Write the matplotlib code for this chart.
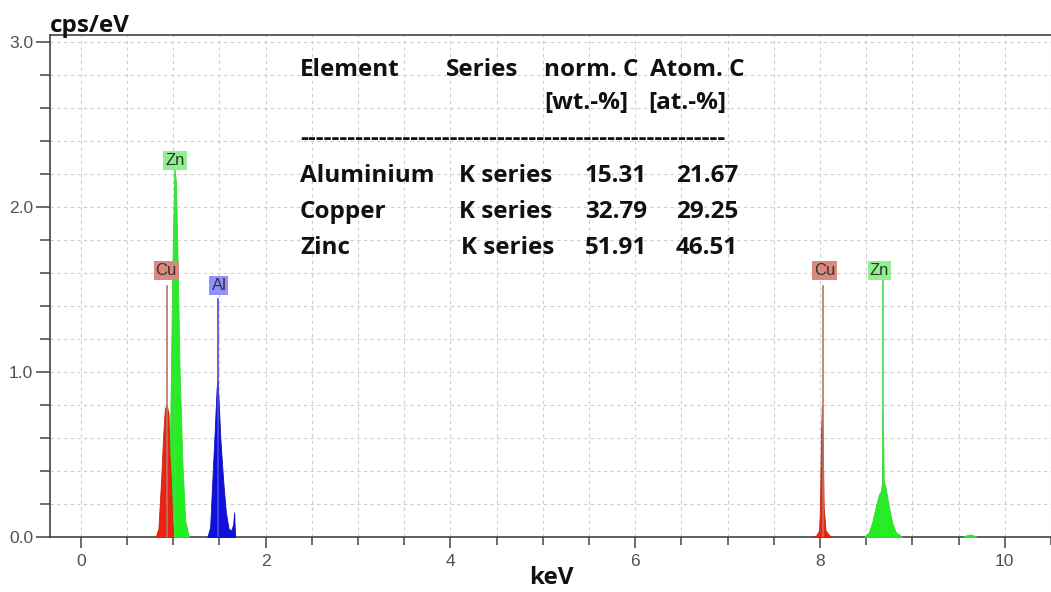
import matplotlib
matplotlib.use("Agg")
import matplotlib.pyplot as plt
from matplotlib import font_manager
import numpy as np

# ---------------- data ----------------
zn_l_e = [0.88, 0.93, 0.96, 0.975, 0.99, 1.01, 1.02, 1.03, 1.05, 1.07, 1.10, 1.13, 1.17]
zn_l_c = [0.0, 0.08, 0.40, 0.95, 1.60, 2.15, 2.21, 2.15, 1.60, 1.00, 0.45, 0.10, 0.0]

cu_l_e = [0.81, 0.84, 0.87, 0.89, 0.91, 0.93, 0.95, 0.96, 0.975, 0.99, 1.00]
cu_l_c = [0.0, 0.05, 0.35, 0.60, 0.78, 0.80, 0.75, 0.50, 0.35, 0.10, 0.0]

al_k_e = [1.37, 1.40, 1.42, 1.45, 1.47, 1.48, 1.49, 1.51, 1.54, 1.57, 1.60, 1.63, 1.65, 1.66, 1.67]
al_k_c = [0.0, 0.06, 0.30, 0.65, 0.90, 0.95, 0.85, 0.60, 0.35, 0.15, 0.05, 0.04, 0.08, 0.15, 0.0]

cu_k_e = [7.91, 7.96, 7.99, 8.00, 8.01, 8.02, 8.03, 8.04, 8.06, 8.10, 8.14]
cu_k_c = [0.0, 0.01, 0.04, 0.18, 0.58, 0.80, 0.58, 0.18, 0.04, 0.01, 0.0]

zn_k_e = [8.48, 8.53, 8.57, 8.61, 8.64, 8.66, 8.67, 8.68, 8.69, 8.71, 8.74, 8.78, 8.82, 8.89]
zn_k_c = [0.0, 0.03, 0.10, 0.20, 0.26, 0.28, 0.33, 0.76, 0.34, 0.30, 0.20, 0.09, 0.03, 0.0]

zn_kb_e = [9.55, 9.58, 9.62, 9.66, 9.70]
zn_kb_c = [0.0, 0.01, 0.015, 0.01, 0.0]

# peak markers
marker_labels = ["Zn", "Cu", "Al", "Cu", "Zn"]
marker_energy = [1.02, 0.935, 1.48, 8.03, 8.68]
marker_top = [2.23, 1.52, 1.44, 1.52, 1.55]
label_x = [1.02, 0.925, 1.495, 8.05, 8.645]
label_y = [2.285, 1.618, 1.527, 1.618, 1.618]

# quantification table
tbl_elements = ["Aluminium", "Copper", "Zinc"]
tbl_series = ["K series", "K series", "K series"]
tbl_norm = ["15.31", "32.79", "51.91"]
tbl_atom = ["21.67", "29.25", "46.51"]

x_ticks = [0, 2, 4, 6, 8, 10]
y_ticks = [0.0, 1.0, 2.0, 3.0]

# ---------------- styling ----------------
W, H = 1051, 592
fig = plt.figure(figsize=(W / 100, H / 100), dpi=100)
fig.patch.set_facecolor("white")

def fx(px):
    return px / W

def fy(py):
    return 1 - py / H

installed = {f.name for f in font_manager.fontManager.ttflist}
has_narrow = "Liberation Sans Narrow" in installed
tick_family = ["Liberation Sans Narrow", "Liberation Sans"] if has_narrow else ["Liberation Sans"]
tick_size = 13.5 if has_narrow else 12.5

ax = fig.add_axes([fx(50), fy(537), 1 - fx(50), fy(35) - fy(537)])
ax.set_xlim(-0.333, 10.43)
ax.set_ylim(0, 3.043)

for s in ["left", "top", "bottom"]:
    ax.spines[s].set_color("#444444")
    ax.spines[s].set_linewidth(1.2)
ax.spines["right"].set_visible(False)

ax.set_xticks(x_ticks)
ax.set_xticks(np.arange(0, 10.51, 0.5), minor=True)
ax.set_yticks(y_ticks)
ax.set_yticks(np.arange(0, 3.01, 0.2), minor=True)
ax.set_xticklabels([str(t) for t in x_ticks])
ax.set_yticklabels(["%.1f" % t for t in y_ticks])
ax.tick_params(axis="both", which="both", direction="out", color="#444444",
               labelcolor="#505050", labelsize=tick_size, width=1.1)
ax.tick_params(axis="x", which="major", length=8, pad=4)
ax.tick_params(axis="x", which="minor", length=6)
ax.tick_params(axis="y", which="major", length=10, pad=2)
ax.tick_params(axis="y", which="minor", length=7)
for lab in ax.get_xticklabels() + ax.get_yticklabels():
    lab.set_fontfamily(tick_family)

ax.grid(True, which="both", color="#cfcfcf", linestyle=(0, (3, 3)), linewidth=0.8)
ax.set_axisbelow(True)

green = "#22ee22"
red = "#ee2211"
blue = "#1010dd"

ax.fill_between(zn_l_e, zn_l_c, color=green, lw=0.6, edgecolor="#33dd33", zorder=3)
ax.fill_between(cu_l_e, cu_l_c, color=red, lw=0.6, edgecolor="#cc2200", zorder=3)
ax.fill_between(al_k_e, al_k_c, color=blue, lw=0.6, edgecolor="#1010bb", zorder=3)
ax.fill_between(cu_k_e, cu_k_c, color=red, lw=0.6, edgecolor="#cc2200", zorder=3)
ax.fill_between(zn_k_e, zn_k_c, color=green, lw=0.6, edgecolor="#33dd33", zorder=3)
ax.fill_between(zn_kb_e, zn_kb_c, color=green, lw=0.6, edgecolor="#33dd33", zorder=3)

line_cols = {"Zn": "#44dd44", "Cu": "#b87468", "Al": "#4a4ae0"}
box_cols = {"Zn": "#90f090", "Cu": "#d88a7e", "Al": "#9090ff"}
for lab, e, top, lx, ly in zip(marker_labels, marker_energy, marker_top, label_x, label_y):
    ax.plot([e, e], [0, top], color=line_cols[lab], lw=1.2, zorder=4)
    ax.text(lx, ly, lab, ha="center", va="center", fontsize=12, color="#333333",
            family=tick_family, zorder=5,
            bbox=dict(boxstyle="square,pad=0.12", fc=box_cols[lab], ec="none"))

bold = dict(fontweight="bold", family="Open Sans", color="#111111")

# axis labels
fig.text(fx(50), fy(32), "cps/eV", ha="left", va="baseline", fontsize=17.5, **bold)
fig.text(fx(551), fy(584), "keV", ha="center", va="baseline", fontsize=17.5, **bold)

# table
tk = dict(fontsize=17.5, va="baseline", ha="left", **bold)
fig.text(fx(300), fy(76), "Element", **tk)
fig.text(fx(446), fy(76), "Series", **tk)
fig.text(fx(544), fy(76), "norm. C", **tk)
fig.text(fx(650), fy(76), "Atom. C", **tk)
fig.text(fx(544), fy(109), "[wt.-%]", **tk)
fig.text(fx(648), fy(109), "[at.-%]", **tk)
fig.text(fx(300), fy(139), "-" * 54, fontsize=17.5, va="center", ha="left", **bold)
row_y = [182, 218, 254]
ser_x = [459, 459, 461]
for i in range(3):
    fig.text(fx(300), fy(row_y[i]), tbl_elements[i], **tk)
    fig.text(fx(ser_x[i]), fy(row_y[i]), tbl_series[i], **tk)
    fig.text(fx(585), fy(row_y[i]), tbl_norm[i], **tk)
    fig.text(fx(676), fy(row_y[i]), tbl_atom[i], **tk)

fig.savefig("out.png", dpi=100)
